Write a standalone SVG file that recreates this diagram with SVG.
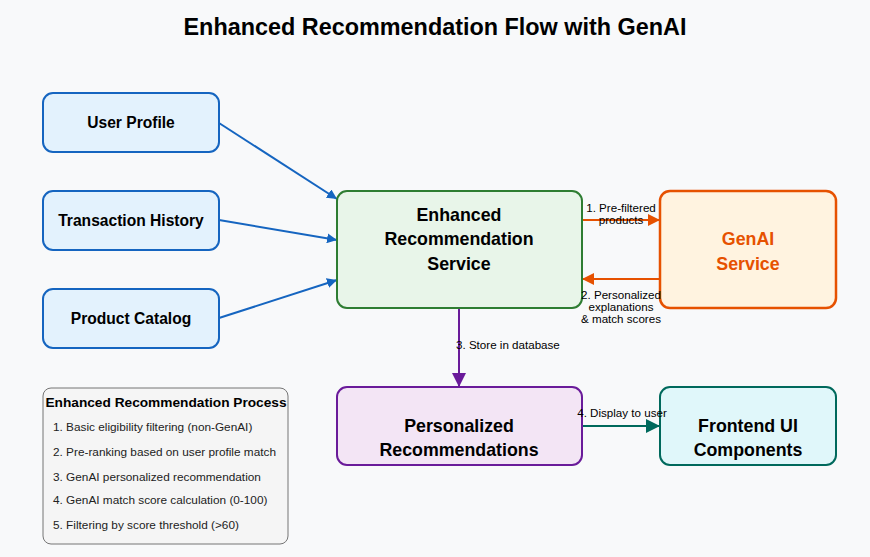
<svg xmlns="http://www.w3.org/2000/svg" width="870" height="557" viewBox="0 0 870 557">
<style>
text{font-family:"Liberation Sans",Arial,sans-serif;fill:#000}
.n{font-size:15.6px;font-weight:bold;text-anchor:middle}
.b{font-size:17.8px}
.l{font-size:11.6px}
.c{text-anchor:middle}
.it{font-size:11.8px;fill:#222}
</style>
<defs>
<marker id="ab" viewBox="0 0 10 10" refX="10" refY="5" markerWidth="10" markerHeight="10" markerUnits="userSpaceOnUse" orient="auto"><path d="M0,0L10,5L0,10z" fill="#1565c0"/></marker>
<marker id="ao" viewBox="0 0 10 10" refX="10" refY="5" markerWidth="12" markerHeight="12" markerUnits="userSpaceOnUse" orient="auto"><path d="M0,0L10,5L0,10z" fill="#e65100"/></marker>
<marker id="ap" viewBox="0 0 10 10" refX="10" refY="5" markerWidth="14" markerHeight="14" markerUnits="userSpaceOnUse" orient="auto"><path d="M0,0L10,5L0,10z" fill="#6a1b9a"/></marker>
<marker id="at" viewBox="0 0 10 10" refX="10" refY="5" markerWidth="14" markerHeight="14" markerUnits="userSpaceOnUse" orient="auto"><path d="M0,0L10,5L0,10z" fill="#00695c"/></marker>
</defs>
<rect width="870" height="557" fill="#f8f9fa"/>
<text x="435" y="35" font-size="23.4" font-weight="bold" text-anchor="middle">Enhanced Recommendation Flow with GenAI</text>

<g id="connectors" fill="none" stroke-width="2">
<line x1="219" y1="123" x2="337" y2="199" stroke="#1565c0" marker-end="url(#ab)"/>
<line x1="219" y1="220" x2="337" y2="240" stroke="#1565c0" marker-end="url(#ab)"/>
<line x1="219" y1="318" x2="337" y2="280" stroke="#1565c0" marker-end="url(#ab)"/>
<line x1="582" y1="220" x2="660" y2="220" stroke="#e65100" marker-end="url(#ao)"/>
<line x1="660" y1="279" x2="582" y2="279" stroke="#e65100" marker-end="url(#ao)"/>
<line x1="459" y1="308" x2="459" y2="387" stroke="#6a1b9a" marker-end="url(#ap)"/>
<line x1="582" y1="426" x2="660" y2="426" stroke="#00695c" marker-end="url(#at)"/>
</g>

<g id="user-profile">
<rect x="43" y="93" width="176" height="59" rx="10" fill="#e3f2fd" stroke="#1565c0" stroke-width="2"/>
<text class="n" x="131" y="128">User Profile</text>
</g>
<g id="transaction-history">
<rect x="43" y="191" width="176" height="59" rx="10" fill="#e3f2fd" stroke="#1565c0" stroke-width="2"/>
<text class="n" x="131" y="226">Transaction History</text>
</g>
<g id="product-catalog">
<rect x="43" y="289" width="176" height="59" rx="10" fill="#e3f2fd" stroke="#1565c0" stroke-width="2"/>
<text class="n" x="131" y="324">Product Catalog</text>
</g>
<g id="enhanced-service">
<rect x="337" y="191" width="245" height="117" rx="10" fill="#e8f5e9" stroke="#2e7d32" stroke-width="2"/>
<text class="n b" x="459" y="221">Enhanced</text>
<text class="n b" x="459" y="245">Recommendation</text>
<text class="n b" x="459" y="270">Service</text>
</g>
<g id="genai-service">
<rect x="660" y="191" width="176" height="117" rx="10" fill="#fff3e0" stroke="#e65100" stroke-width="2.5"/>
<text class="n b" x="748" y="245" style="fill:#e65100">GenAI</text>
<text class="n b" x="748" y="270" style="fill:#e65100">Service</text>
</g>
<g id="personalized-recommendations">
<rect x="337" y="387" width="245" height="78" rx="10" fill="#f3e5f5" stroke="#6a1b9a" stroke-width="2"/>
<text class="n b" x="459" y="432">Personalized</text>
<text class="n b" x="459" y="456">Recommendations</text>
</g>
<g id="frontend-ui">
<rect x="660" y="387" width="176" height="78" rx="10" fill="#e0f7fa" stroke="#00695c" stroke-width="2"/>
<text class="n b" x="748" y="432">Frontend UI</text>
<text class="n b" x="748" y="456">Components</text>
</g>

<g id="connector-labels">
<text class="l c" x="621" y="212">1. Pre-filtered</text>
<text class="l c" x="621" y="224">products</text>
<text class="l c" x="621" y="299">2. Personalized</text>
<text class="l c" x="621" y="311">explanations</text>
<text class="l c" x="621" y="323">&amp; match scores</text>
<text class="l" x="456" y="349">3. Store in database</text>
<text class="l c" x="622" y="417">4. Display to user</text>
</g>

<g id="process-legend">
<rect x="43" y="388" width="245" height="156" rx="8" fill="#f5f5f5" stroke="#757575" stroke-width="1"/>
<text x="166" y="407" font-size="13.7" font-weight="bold" text-anchor="middle">Enhanced Recommendation Process</text>
<text class="it" x="53" y="431">1. Basic eligibility filtering (non-GenAI)</text>
<text class="it" x="53" y="456">2. Pre-ranking based on user profile match</text>
<text class="it" x="53" y="481">3. GenAI personalized recommendation</text>
<text class="it" x="53" y="504">4. GenAI match score calculation (0-100)</text>
<text class="it" x="53" y="529">5. Filtering by score threshold (&gt;60)</text>
</g>
</svg>
